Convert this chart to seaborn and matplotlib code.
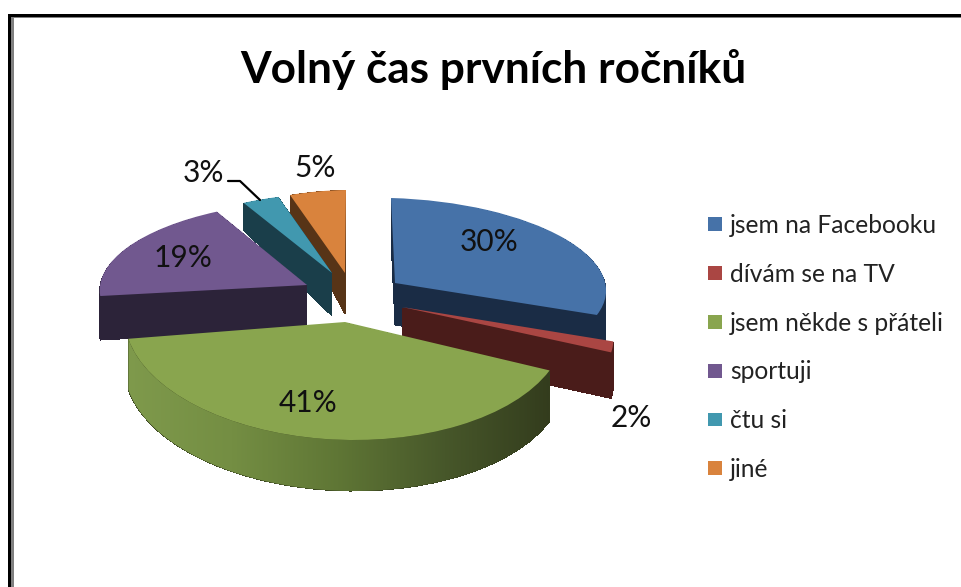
import numpy as np
import matplotlib
matplotlib.use("Agg")
import matplotlib.pyplot as plt
import seaborn as sns
from matplotlib.colors import LinearSegmentedColormap
from matplotlib.patches import Patch, Rectangle, Polygon
from matplotlib.transforms import Affine2D

TITLE = "Volný čas prvních ročníků"
categories = ["jsem na Facebooku", "dívám se na TV", "jsem někde s přáteli", "sportuji", "čtu si", "jiné"]
values = [30, 2, 41, 19, 3, 5]
top_colors = ["#4672A8", "#AA4643", "#89A54E", "#71588F", "#4198AF", "#D9833D"]
side_colors = ["#1A2C45", "#4A1C1A", "#36401E", "#2C2339", "#1A3E4A", "#573417"]

sns.set_theme(style="white")
plt.rcParams["font.family"] = ["Lato", "DejaVu Sans"]

W, H = 961, 587
fig = plt.figure(figsize=(W / 100, H / 100), dpi=100, facecolor="white")
ax = fig.add_axes([0, 0, 1, 1])

# slice placement: apex in pixels, affine matrix of the perspective, depth, taper
apex = [(395, 283), (402, 307), (345, 322), (307, 285), (332, 273), (345, 273)]
matrix = [(211, -4, -6, 85), (202, -62, -5, 96), (220, -13, 2, 118),
          (207, 11, 0.5, 84), (198, 8, 0, 80), (181, 1, 3, 83)]
depth = [42, 46, 51, 44, 43, 41]
taper = [0, 0, 0, 0, 0.42, 0.6]
draw_rank = [0, 4, 5, 3, 2, 1]


def slice_tf(i, k):
    a, b, c, d = matrix[i]
    px, py = apex[i]
    return Affine2D.from_values(a, c, b, d + k * taper[i], px, H - py - k)


top_wedges = None
for k in range(max(depth), -1, -1):
    cols = top_colors if k == 0 else side_colors
    wedges, _ = ax.pie(values, colors=cols, startangle=90, counterclock=False,
                       wedgeprops={"linewidth": 0}, frame=False)
    for i, w in enumerate(wedges):
        if k > depth[i]:
            w.set_visible(False)
            continue
        w.set_transform(slice_tf(i, k) + ax.transData)
        w.set_zorder((draw_rank[i] + 1) * 1000 - k)
        w.set_antialiased(k == 0)
    if k == 0:
        top_wedges = wedges

ax.set_aspect("auto")
ax.set_xlim(0, W)
ax.set_ylim(0, H)
ax.axis("on")
ax.set_xticks([])
ax.set_yticks([])
for s in ax.spines.values():
    s.set_visible(False)

# gradient side of the green slice
g = 2
th = np.radians(np.linspace(top_wedges[g].theta1, top_wedges[g].theta2, 200))
unit = np.column_stack([np.cos(th), np.sin(th)])
upper = slice_tf(g, 0).transform(unit)
lower = slice_tf(g, depth[g]).transform(unit)
band = Polygon(np.vstack([upper, lower[::-1]]), closed=True, transform=ax.transData,
               facecolor="none", edgecolor="none")
ax.add_patch(band)
cmap = LinearSegmentedColormap.from_list("side", ["#7F9A4C", "#748E43", "#5F7635", "#47572A", "#333C1D"])
img = ax.imshow(np.linspace(0, 1, 256)[None, :], cmap=cmap, aspect="auto",
                extent=(125, 552, H - 495, H - 330), origin="lower",
                zorder=(draw_rank[g] + 1) * 1000 - 0.5)
img.set_clip_path(band)
ax.set_xlim(0, W)
ax.set_ylim(0, H)
ax.set_aspect("auto")

# title
ax.text(493, H - 69, TITLE, ha="center", va="center", fontsize=31.8, fontweight="bold", color="black", zorder=9000)

# value labels
label_pos = [(489, 242), (631, 418), (308, 403), (183, 258), (203, 173), (315, 168)]
for v, (x, y) in zip(values, label_pos):
    ax.text(x, H - y, f"{v}%", ha="center", va="center", fontsize=21.5, color="#111111", zorder=9000)
ax.plot([228, 240, 260], [H - 181, H - 181, H - 200], color="black", lw=1.6, zorder=9000)

# legend
handles = [Patch(facecolor=c, edgecolor="none") for c in top_colors]
leg = ax.legend(handles, categories, loc="upper left", bbox_to_anchor=(708, H - 214),
                bbox_transform=ax.transData, frameon=False, fontsize=17.7,
                labelspacing=1.05, handlelength=0.57, handleheight=0.49, handletextpad=0.33,
                borderpad=0, borderaxespad=0, labelcolor="#222222")
leg.set_zorder(9000)

# frame
for xy, w_, h_, col in [((8, 0), 3, H - 14, "black"), ((8, H - 17), W - 8, 3, "black"),
                        ((11, 0), 3, H - 17, "#808080"), ((11, H - 18), W - 11, 1, "#808080")]:
    ax.add_patch(Rectangle(xy, w_, h_, facecolor=col, edgecolor="none", zorder=9500))

fig.savefig("out.png", dpi=100, facecolor="white")
